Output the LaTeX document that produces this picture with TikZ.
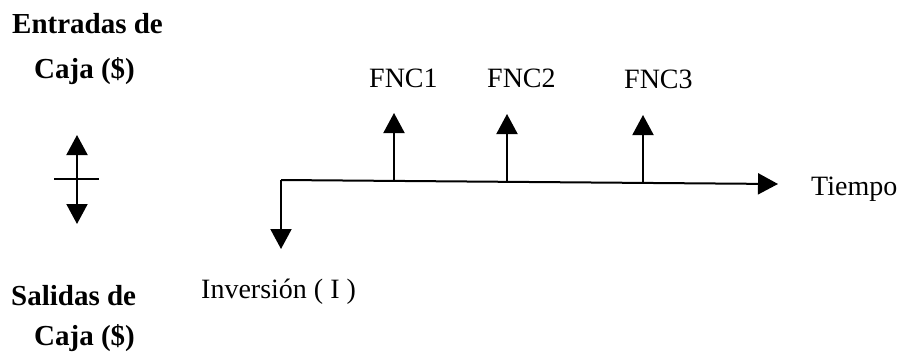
\documentclass[tikz,border=0pt]{standalone}
\usepackage{fontspec}
\setmainfont{Liberation Serif}
\usetikzlibrary{arrows.meta}
\begin{document}
\begin{tikzpicture}[x=1pt,y=-1pt,
  lbl/.style={inner sep=0pt,anchor=base west,font=\fontsize{28}{32}\selectfont},
  blbl/.style={inner sep=0pt,anchor=base west,font=\fontsize{29}{32}\selectfont\bfseries},
  ln/.style={line width=2pt},
  arr/.style={ln,-{Triangle[length=20pt,width=21pt]}}]
\useasboundingbox (0,0) rectangle (907,351);
% left legend
\node[blbl] (ent) at (12,33) {Entradas de};
\node[blbl] (caja1) at (34,78) {Caja (\$)};
\node[blbl] (sal) at (11,305) {Salidas de};
\node[blbl] (caja2) at (34,345) {Caja (\$)};
\coordinate (lc) at (77,179);
\coordinate (lt) at (77,135);
\coordinate (lb) at (77,224);
\coordinate (bl) at (54,179);
\coordinate (br) at (99,179);
\draw[arr] (lc) -- (lt);
\draw[arr] (lc) -- (lb);
\draw[ln] (bl) -- (br);
% time line
\coordinate (o) at (281,180);
\coordinate (e) at (778,184);
\coordinate (p1) at (394,181);
\coordinate (p2) at (507,182);
\coordinate (p3) at (643,183);
\coordinate (inv) at (281,249);
\coordinate (t1) at (394,113);
\coordinate (t2) at (507,114);
\coordinate (t3) at (643,115);
\draw[arr] (o) -- (e);
\draw[arr] (o) -- (inv);
\draw[arr] (p1) -- (t1);
\draw[arr] (p2) -- (t2);
\draw[arr] (p3) -- (t3);
\node[lbl] (f1) at (369,87) {FNC1};
\node[lbl] (f2) at (487,87) {FNC2};
\node[lbl] (f3) at (624,88) {FNC3};
\node[lbl] (tie) at (811,195) {Tiempo};
\node[lbl] (invl) at (201,298) {Inversión ( I )};
\end{tikzpicture}
\end{document}
